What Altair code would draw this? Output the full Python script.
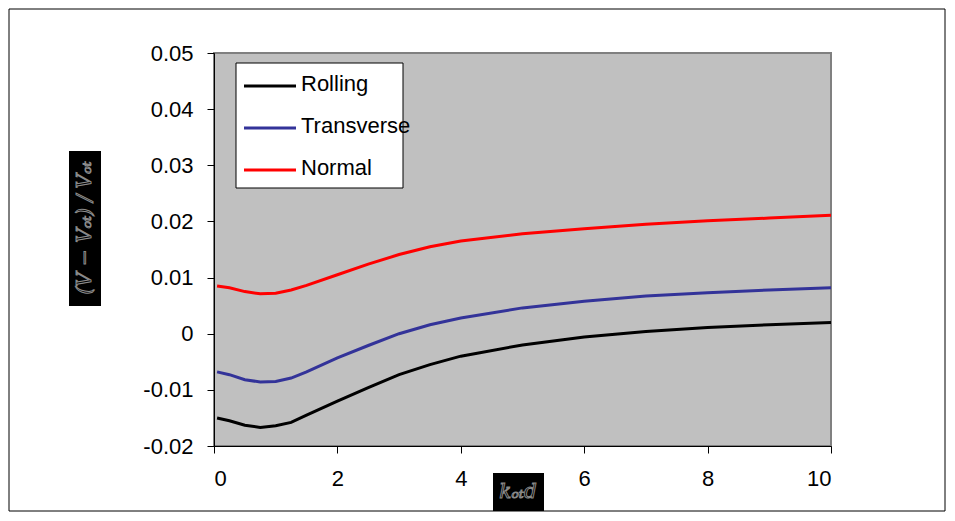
import altair as alt
import pandas as pd

# ---- data ----
x_vals = [0.05, 0.25, 0.5, 0.75, 1.0, 1.25, 1.5, 2.0, 2.5, 3.0, 3.5, 4.0, 5.0, 6.0, 7.0, 8.0, 9.0, 10.0]
rolling = [-0.0150, -0.0155, -0.0163, -0.0167, -0.0164, -0.0158, -0.0145, -0.0120, -0.0096, -0.0073,
           -0.0055, -0.0040, -0.0020, -0.0006, 0.0004, 0.0011, 0.0016, 0.0020]
transverse = [-0.0068, -0.0073, -0.0082, -0.0086, -0.0085, -0.0079, -0.0068, -0.0043, -0.0021, 0.0000,
              0.0016, 0.0028, 0.0046, 0.0058, 0.0067, 0.0073, 0.0078, 0.0082]
normal = [0.0085, 0.0082, 0.0075, 0.0071, 0.0072, 0.0078, 0.0086, 0.0105, 0.0124, 0.0141,
          0.0155, 0.0165, 0.0178, 0.0187, 0.0195, 0.0201, 0.0206, 0.0211]

series_names = ["Rolling", "Transverse", "Normal"]
series_colors = ["#000000", "#333399", "#ff0000"]
y_ticks = [-0.02, -0.01, 0.0, 0.01, 0.02, 0.03, 0.04, 0.05]
x_ticks = [0, 2, 4, 6, 8, 10]
y_title = "(V − Vₒₜ) / Vₒₜ"
x_title = "kₒₜd"

rows = []
for name, vals in zip(series_names, [rolling, transverse, normal]):
    for xv, yv in zip(x_vals, vals):
        rows.append({"x": xv, "y": yv, "series": name})
df = pd.DataFrame(rows)

W, H = 617, 393
FONT = "Liberation Sans"
FS = 22
one = pd.DataFrame({"a": [0]})

# outer frame (kept inside the window so the page does not scroll)
frame = alt.Chart(one).mark_rect(fill="transparent", stroke="black", strokeWidth=1).encode(
    x=alt.value(-205), x2=alt.value(731), y=alt.value(-44), y2=alt.value(458)
)

lines = alt.Chart(df).mark_line(strokeWidth=3).encode(
    x=alt.X("x:Q", scale=alt.Scale(domain=[0, 10], nice=False),
            axis=alt.Axis(values=x_ticks, title=None, format="d", labelPadding=15)),
    y=alt.Y("y:Q", scale=alt.Scale(domain=[-0.02, 0.05], nice=False),
            axis=alt.Axis(values=y_ticks, title=None, labelPadding=14,
                          labelExpr="abs(datum.value) < 1e-9 ? '0' : (datum.value < 0 ? '-' : '') + format(abs(datum.value), '.2f')")),
    color=alt.Color("series:N", scale=alt.Scale(domain=series_names, range=series_colors), legend=None),
    detail="series:N",
)

# legend (manual)
legend_layers = [
    alt.Chart(one).mark_rect(fill="white", stroke="black", strokeWidth=1).encode(
        x=alt.value(22), x2=alt.value(189), y=alt.value(10), y2=alt.value(135)
    )
]
row_y = [33, 75, 117]
for name, col, ry in zip(series_names, series_colors, row_y):
    legend_layers.append(
        alt.Chart(one).mark_rule(color=col, strokeWidth=3).encode(
            x=alt.value(30), x2=alt.value(82), y=alt.value(ry)
        )
    )
    legend_layers.append(
        alt.Chart(one).mark_text(text=name, font=FONT, fontSize=FS, align="left",
                                 baseline="middle", color="black").encode(
            x=alt.value(87), y=alt.value(ry - 2)
        )
    )

# axis titles as black boxes with outlined text
ytitle_box = alt.Chart(one).mark_rect(fill="black").encode(
    x=alt.value(-145), x2=alt.value(-113), y=alt.value(98), y2=alt.value(253)
)
ytitle_txt = alt.Chart(one).mark_text(text=y_title, font="DejaVu Serif", fontStyle="italic",
                                      fontSize=20, angle=270, align="center", baseline="middle",
                                      fill="black", stroke="#8a8a8a", strokeWidth=1).encode(
    x=alt.value(-129), y=alt.value(175)
)
xtitle_box = alt.Chart(one).mark_rect(fill="black").encode(
    x=alt.value(279), x2=alt.value(330), y=alt.value(420), y2=alt.value(458)
)
xtitle_txt = alt.Chart(one).mark_text(text=x_title, font="DejaVu Serif", fontStyle="italic",
                                      fontSize=20, align="center", baseline="middle",
                                      fill="black", stroke="#8a8a8a", strokeWidth=1).encode(
    x=alt.value(304), y=alt.value(439)
)

chart = alt.layer(frame, lines, *legend_layers, ytitle_box, ytitle_txt, xtitle_box, xtitle_txt).properties(
    width=W, height=H, padding=0, background="white"
).configure_view(
    fill="#c0c0c0", stroke="#808080", strokeWidth=2
).configure_axis(
    grid=False, domainColor="black", domainWidth=1, tickColor="black", tickSize=7,
    labelFont=FONT, labelFontSize=FS, labelColor="black",
)

chart.save("out.html", embed_options={"renderer": "svg", "actions": False})
